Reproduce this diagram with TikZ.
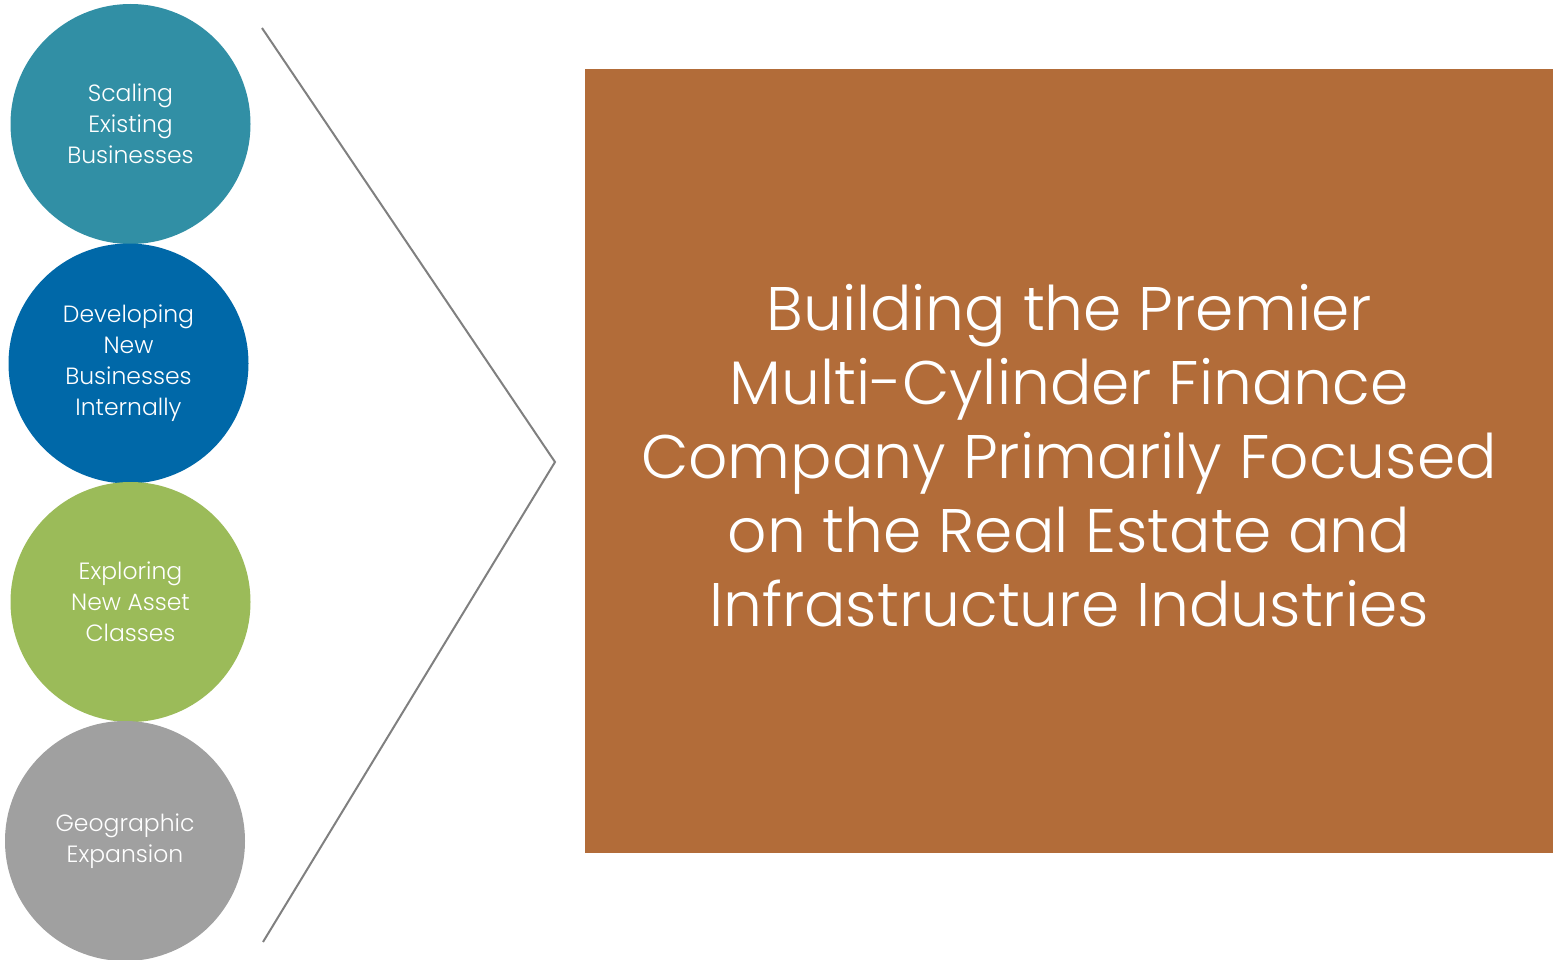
\documentclass[tikz,border=0pt]{standalone}
\usepackage{fontspec}
\setmainfont{Poppins}[UprightFont=* Light]
\definecolor{cteal}{HTML}{318FA5}
\definecolor{cblue}{HTML}{0068A8}
\definecolor{cgreen}{HTML}{9BBB59}
\definecolor{cgrey}{HTML}{A0A0A0}
\definecolor{cbrown}{HTML}{B26C39}
\definecolor{cline}{HTML}{808080}
\begin{document}
\begin{tikzpicture}[x=1pt,y=-1pt,
  bubble/.style={circle,minimum size=240pt,inner sep=0pt,text=white,align=center,
    font=\fontsize{23.5}{31}\selectfont},
  goal/.style={rectangle,fill=cbrown,text=white,align=center,inner sep=0pt,
    minimum width=968pt,minimum height=784pt,font=\fontsize{61.5}{74}\selectfont}]
\useasboundingbox (0,0) rectangle (1560,960);
% four strategy bubbles stacked on the left
\node[bubble,fill=cteal]  (s1) at (130.5,124) {Scaling\\Existing\\Businesses};
\node[bubble,fill=cblue]  (s2) at (128.5,363.5) {Developing\\New\\Businesses\\Internally};
\node[bubble,fill=cgreen] (s3) at (130.5,602) {Exploring\\New Asset\\Classes};
\node[bubble,fill=cgrey]  (s4) at (125,841) {Geographic\\Expansion};
% chevron pointing to the goal
\coordinate (ctop) at (262,28);
\coordinate (ctip) at (555,462);
\coordinate (cbot) at (263,942);
\draw[cline,line width=2pt] (ctop) -- (ctip) -- (cbot);
% goal box, with its text set a little above the box centre
\node[goal] (g) at (1069,461) {};
\node[text=white,align=center,inner sep=0pt,font=\fontsize{61.5}{74}\selectfont] (gt) at (1069,456) {Building the Premier\\Multi-Cylinder Finance\\Company Primarily Focused\\on the Real Estate and\\Infrastructure Industries};
\end{tikzpicture}
\end{document}
